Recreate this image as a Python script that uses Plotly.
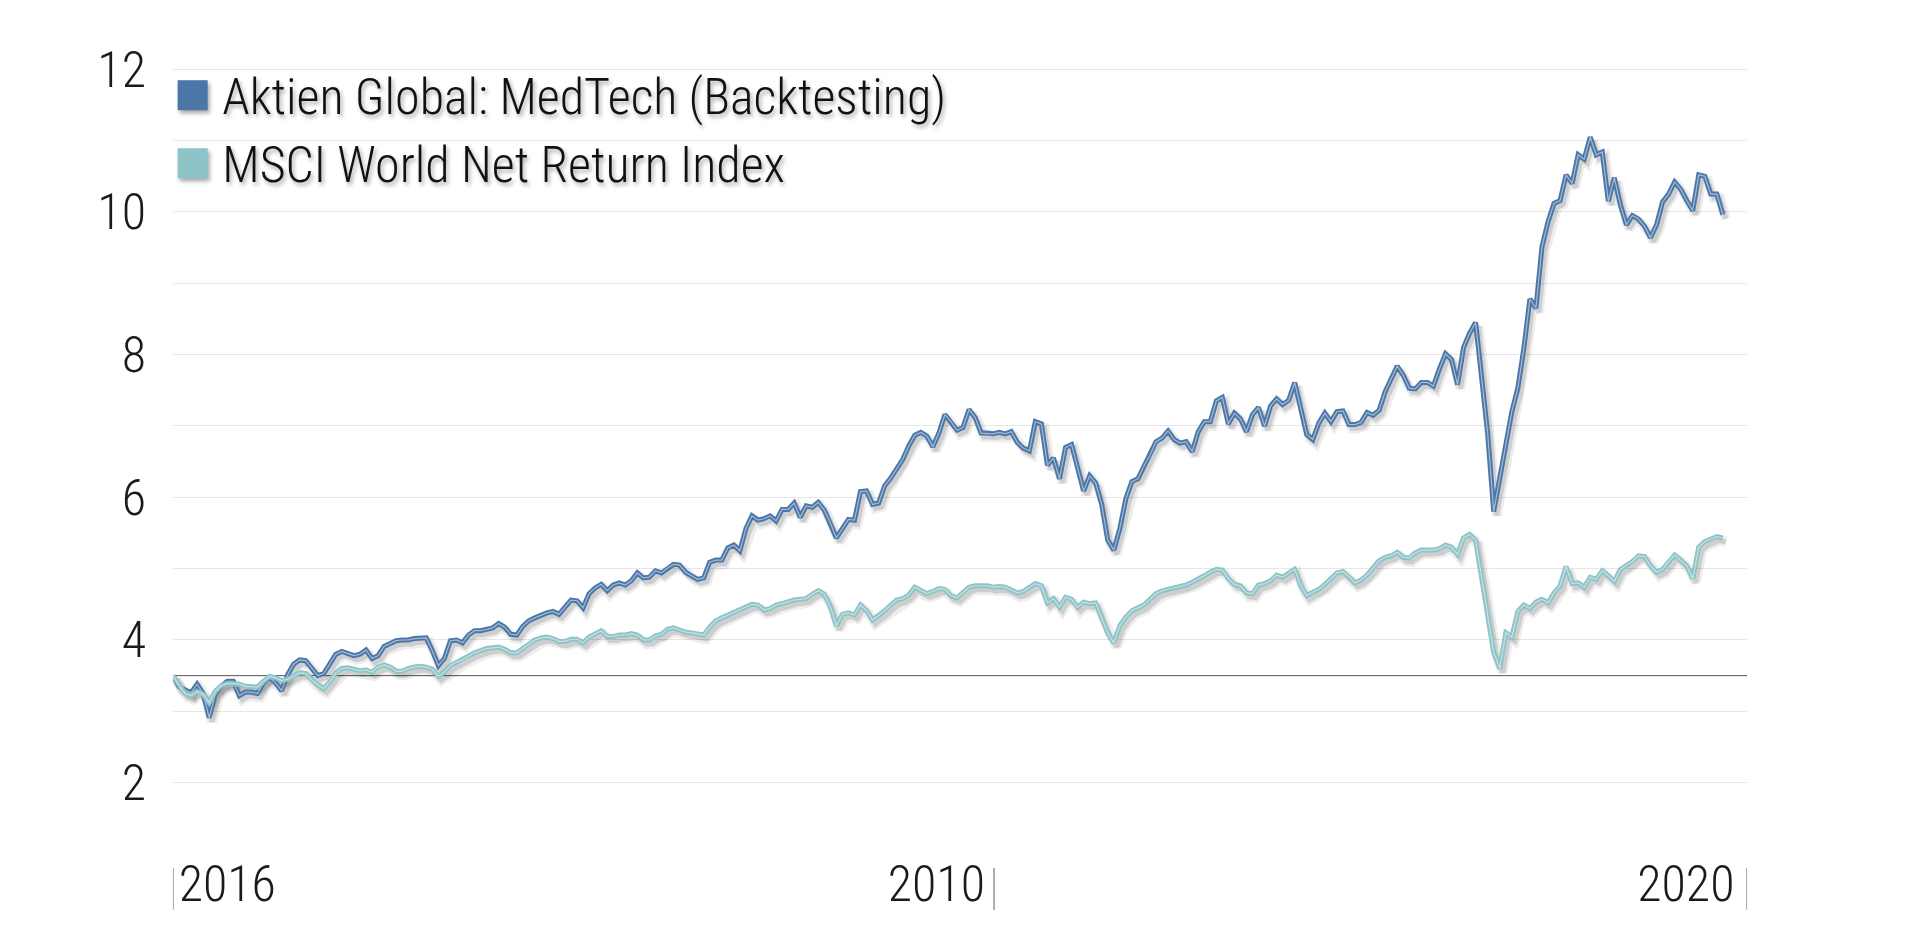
import pandas as pd
import plotly.graph_objects as go

# weekly closes (index, start = 3.5)
medtech = [
    3.50, 3.35, 3.30, 3.26, 3.38, 3.25, 2.91, 3.24, 3.35, 3.42,
    3.42, 3.22, 3.27, 3.27, 3.25, 3.40, 3.48, 3.40, 3.29, 3.51,
    3.66, 3.72, 3.71, 3.61, 3.50, 3.53, 3.66, 3.80, 3.84, 3.81,
    3.78, 3.80, 3.86, 3.74, 3.78, 3.91, 3.95, 3.99, 4.00, 4.00,
    4.02, 4.03, 4.03, 3.85, 3.64, 3.74, 3.99, 4.00, 3.96, 4.07,
    4.13, 4.13, 4.15, 4.17, 4.23, 4.18, 4.08, 4.07, 4.19, 4.27,
    4.31, 4.35, 4.38, 4.40, 4.36, 4.46, 4.56, 4.55,
    4.45, 4.65, 4.73, 4.78, 4.69, 4.77, 4.80, 4.77, 4.83, 4.94,
    4.87, 4.88, 4.97, 4.94, 5.01, 5.06, 5.05, 4.95, 4.90, 4.85,
    4.87, 5.09, 5.12, 5.12, 5.29, 5.33, 5.25, 5.56, 5.74, 5.68,
    5.70, 5.74, 5.67, 5.83, 5.83, 5.92, 5.72, 5.88, 5.86, 5.93,
    5.82, 5.64, 5.43, 5.56, 5.69, 5.68, 6.08, 6.09, 5.90, 5.92,
    6.16, 6.27, 6.40, 6.53, 6.72, 6.87, 6.91, 6.86, 6.71, 6.90,
    7.16, 7.06, 6.94, 6.98, 7.23, 7.12,
    6.90, 6.90, 6.89, 6.91, 6.89, 6.92, 6.77, 6.69, 6.65, 7.06,
    7.03, 6.45, 6.55, 6.26, 6.70, 6.74, 6.43, 6.09, 6.30, 6.20,
    5.90, 5.40, 5.26, 5.56, 5.98, 6.22, 6.26, 6.44, 6.59, 6.78,
    6.83, 6.93, 6.81, 6.76, 6.78, 6.64, 6.92, 7.06, 7.06, 7.35,
    7.40, 7.03, 7.18, 7.10, 6.92, 7.16, 7.26, 7.00, 7.28, 7.38,
    7.30, 7.36, 7.61, 7.25, 6.88, 6.81, 7.04, 7.18, 7.06, 7.20,
    7.21, 7.02, 7.02, 7.05, 7.19, 7.15,
    7.22, 7.48, 7.65, 7.84, 7.71, 7.53, 7.52, 7.61, 7.61, 7.56,
    7.80, 8.01, 7.93, 7.58, 8.10, 8.30, 8.45, 7.70, 6.90, 5.80,
    6.26, 6.72, 7.20, 7.53, 8.09, 8.78, 8.65, 9.51, 9.86, 10.12,
    10.16, 10.52, 10.40, 10.80, 10.74, 11.05, 10.80, 10.84, 10.15, 10.48,
    10.10, 9.82, 9.95, 9.90, 9.80, 9.64, 9.82, 10.14, 10.25, 10.42,
    10.32, 10.16, 10.02, 10.52, 10.50, 10.25, 10.25, 9.96,
]

msci = [
    3.50, 3.36, 3.25, 3.22, 3.28, 3.24, 3.12, 3.28, 3.36, 3.39,
    3.39, 3.38, 3.35, 3.35, 3.34, 3.42, 3.49, 3.47, 3.43, 3.45,
    3.50, 3.54, 3.53, 3.44, 3.37, 3.32, 3.41, 3.54, 3.60, 3.61,
    3.59, 3.57, 3.58, 3.55, 3.62, 3.65, 3.62, 3.56, 3.56, 3.60,
    3.62, 3.63, 3.62, 3.59, 3.49, 3.55, 3.64, 3.69, 3.72, 3.77,
    3.82, 3.85, 3.88, 3.89, 3.90, 3.87, 3.82, 3.82, 3.88, 3.94,
    4.00, 4.03, 4.04, 4.02, 3.98, 3.98, 4.01, 4.01,
    3.96, 4.04, 4.08, 4.13, 4.05, 4.05, 4.07, 4.07, 4.09, 4.07,
    4.00, 4.00, 4.06, 4.08, 4.15, 4.17, 4.14, 4.11, 4.10, 4.08,
    4.07, 4.18, 4.27, 4.31, 4.35, 4.38, 4.42, 4.46, 4.50, 4.49,
    4.42, 4.44, 4.49, 4.51, 4.54, 4.56, 4.57, 4.58, 4.64, 4.69,
    4.64, 4.47, 4.20, 4.36, 4.38, 4.35, 4.49, 4.41, 4.28, 4.34,
    4.41, 4.49, 4.56, 4.58, 4.63, 4.74, 4.69, 4.65, 4.68, 4.72,
    4.71, 4.62, 4.59, 4.67, 4.74, 4.76,
    4.76, 4.76, 4.74, 4.75, 4.74, 4.70, 4.66, 4.68, 4.74, 4.79,
    4.76, 4.52, 4.58, 4.46, 4.60, 4.57, 4.46, 4.53, 4.51, 4.52,
    4.31, 4.10, 3.96, 4.20, 4.32, 4.41, 4.45, 4.49, 4.57, 4.65,
    4.69, 4.71, 4.73, 4.75, 4.77, 4.81, 4.85, 4.90, 4.95, 4.99,
    4.98, 4.86, 4.78, 4.76, 4.66, 4.65, 4.77, 4.79, 4.83, 4.91,
    4.88, 4.93, 4.99, 4.76, 4.62, 4.67, 4.71, 4.78, 4.86, 4.94,
    4.96, 4.89, 4.80, 4.84, 4.91, 5.01,
    5.11, 5.16, 5.18, 5.23, 5.16, 5.15, 5.22, 5.26, 5.26, 5.26,
    5.28, 5.33, 5.30, 5.20, 5.43, 5.48, 5.40, 4.87, 4.33, 3.83,
    3.60, 4.10, 4.04, 4.40, 4.49, 4.44, 4.53, 4.57, 4.52, 4.66,
    4.76, 5.03, 4.79, 4.80, 4.74, 4.88, 4.85, 4.97, 4.90, 4.82,
    4.99, 5.04, 5.10, 5.18, 5.17, 5.04, 4.95, 4.99, 5.10, 5.19,
    5.12, 5.04, 4.86, 5.30, 5.38, 5.42, 5.45, 5.43,
]

series_names = ["Aktien Global: MedTech (Backtesting)", "MSCI World Net Return Index"]
series_colors = ["#4a76a8", "#8ec4c8"]

start = "2016-01-01"
end = "2021-01-01"
tick_dates = ["2016-03-04", "2018-06-05", "2020-10-22"]
tick_text = ["2016", "2010", "2020"]
bar_dates = ["2016-01-01", "2018-08-11", "2021-01-01"]
y_ticks = [2, 4, 6, 8, 10, 12]
y_range = [1.0, 12.2]
baseline = 3.5

FONT = "Roboto Condensed, Roboto, sans-serif"
W, H = 1920, 929
ML, MR, MT, MB = 165, 181, 47, 83

dates = pd.date_range(start, periods=len(medtech), freq="7D")

# shadow offset (pixels) -> shifted ranges for a hidden overlay axis pair
plot_w = W - ML - MR
plot_h = H - MT - MB
span = pd.Timestamp(end) - pd.Timestamp(start)
dx = span * (3 / plot_w)
dy = (y_range[1] - y_range[0]) * (4 / plot_h)

fig = go.Figure()

for vals in [medtech, msci]:
    fig.add_trace(go.Scatter(x=dates, y=vals, mode="lines", xaxis="x2", yaxis="y3",
                             line=dict(color="rgba(0,0,0,0.07)", width=10), hoverinfo="skip", showlegend=False))
    fig.add_trace(go.Scatter(x=dates, y=vals, mode="lines", xaxis="x2", yaxis="y3",
                             line=dict(color="rgba(0,0,0,0.13)", width=5), hoverinfo="skip", showlegend=False))

for vals, col, nm in zip([medtech, msci], series_colors, series_names):
    fig.add_trace(go.Scatter(x=dates, y=vals, mode="lines", xaxis="x3", yaxis="y4",
                             line=dict(color=col, width=5), name=nm, showlegend=False))
    fig.add_trace(go.Scatter(x=dates, y=vals, mode="lines", xaxis="x3", yaxis="y4",
                             line=dict(color="rgba(255,255,255,0.5)", width=1.2), hoverinfo="skip", showlegend=False))

# legend entries: coloured square glyph inside the label, symbol itself hidden
for col, nm in zip(series_colors, series_names):
    fig.add_trace(go.Scatter(x=[None], y=[None], mode="markers",
                             marker=dict(color="rgba(0,0,0,0)", size=1),
                             name=f"<span style='color:{col};font-size:62px'>■</span> {nm}"))

shapes = [dict(type="line", xref="paper", x0=0, x1=1, yref="y", y0=baseline, y1=baseline,
               line=dict(color="#555555", width=1), layer="below")]
for d in bar_dates:
    shapes.append(dict(type="line", xref="x", x0=d, x1=d, yref="paper",
                       y0=-(860 - (H - MB)) / plot_h, y1=-(902 - (H - MB)) / plot_h,
                       line=dict(color="#777777", width=1.2)))

tickfont = dict(family=FONT, size=50, color="#1a1a1a", weight=300)

fig.update_layout(
    width=W, height=H,
    margin=dict(l=ML, r=MR, t=MT, b=MB),
    paper_bgcolor="white", plot_bgcolor="white",
    shapes=shapes,
    showlegend=True,
    legend=dict(x=-0.025, y=0.999, xanchor="left", yanchor="top",
                bgcolor="rgba(0,0,0,0)", itemwidth=30,
                font=dict(family=FONT, size=50, color="#111111", weight=300,
                          shadow="2px 3px 4px rgba(0,0,0,0.35)")),
    xaxis=dict(type="date", range=[start, end], tickvals=tick_dates, ticktext=tick_text,
               showgrid=False, zeroline=False, showline=False, ticks="", ticklabelstandoff=-4,
               tickfont=tickfont),
    yaxis=dict(range=y_range, tickvals=y_ticks, showgrid=True, gridcolor="#e6e6e6", gridwidth=1,
               minor=dict(dtick=1, tick0=0, showgrid=True, gridcolor="#e6e6e6", gridwidth=1),
               zeroline=False, showline=False, ticks="", ticklabelstandoff=26, tickfont=tickfont),
    yaxis2=dict(range=y_range, overlaying="y", side="right", tickvals=y_ticks, showgrid=False,
                zeroline=False, showline=False, ticks="", ticklabelstandoff=21, tickfont=tickfont),
    xaxis2=dict(type="date", overlaying="x", range=[pd.Timestamp(start) - dx, pd.Timestamp(end) - dx],
                visible=False),
    yaxis3=dict(overlaying="y", range=[y_range[0] + dy, y_range[1] + dy], visible=False),
    xaxis3=dict(type="date", overlaying="x", range=[start, end], visible=False),
    yaxis4=dict(overlaying="y", range=y_range, visible=False),
)

fig.write_html("out.html")
